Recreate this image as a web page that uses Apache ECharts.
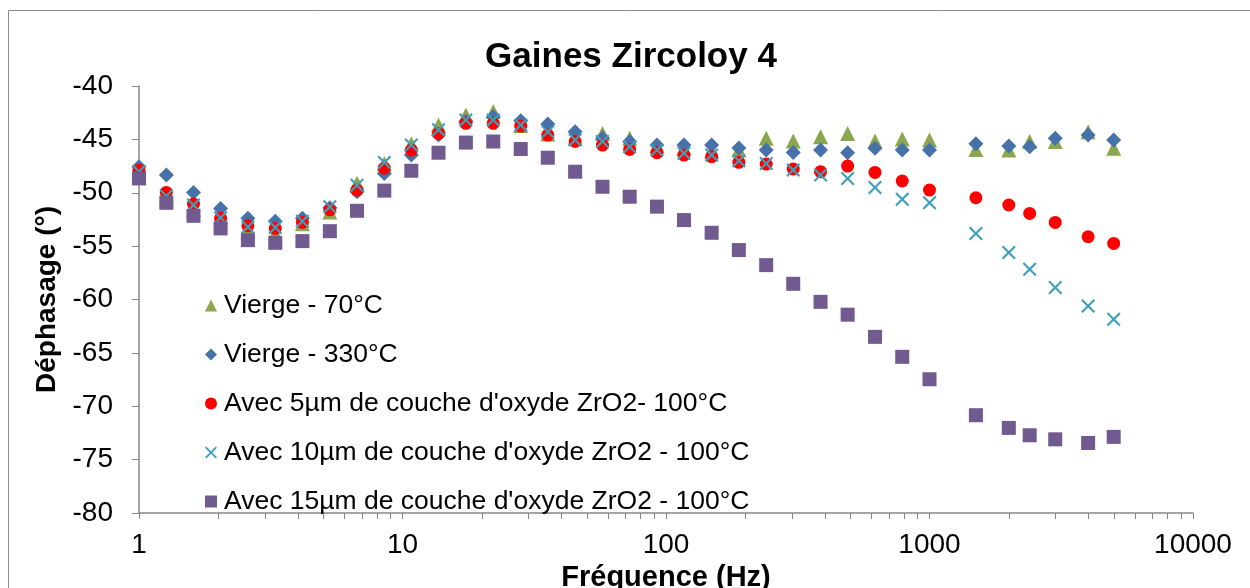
<!DOCTYPE html>
<html>
<head>
<meta charset="utf-8">
<script src="https://cdn.jsdelivr.net/npm/echarts@6/dist/echarts.min.js"></script>
<style>
html,body{margin:0;padding:0;background:#fff;}
#chart{width:1250px;height:588px;}
</style>
</head>
<body>
<div id="chart"></div>
<script>
// ---- data ----
const title = 'Gaines Zircoloy 4';
const xName = 'Fréquence (Hz)';
const yName = 'Déphasage (°)';
const freq = [1, 1.27, 1.61, 2.04, 2.59, 3.29, 4.17, 5.30, 6.72, 8.53, 10.8, 13.7, 17.4, 22.1, 28.1, 35.6, 45.2, 57.4, 72.8, 92.4, 117, 149, 189, 240, 304, 386, 489, 621, 788, 1000, 1500, 2000, 2400, 3000, 4000, 5000];
const vierge70 = [-48.5, -50.6, -51.6, -52.8, -53.6, -53.8, -52.9, -51.8, -49.1, -47.25, -45.4, -43.66, -42.72, -42.4, -43.7, -44.5, -44.9, -44.44, -44.9, -45.6, -45.8, -46.1, -46.0, -44.9, -45.16, -44.75, -44.44, -45.16, -44.97, -45.06, -45.94, -46.0, -45.2, -45.2, -44.28, -45.84];
const vierge330 = [-47.56, -48.34, -49.97, -51.47, -52.4, -52.66, -52.4, -51.4, -49.9, -48.19, -46.47, -44.6, -43.3, -42.87, -43.25, -43.56, -44.28, -44.9, -45.2, -45.53, -45.53, -45.53, -45.8, -46.0, -46.22, -46.0, -46.25, -45.84, -46.0, -46.0, -45.4, -45.63, -45.69, -44.9, -44.6, -45.06];
const oxyde5 = [-47.9, -49.97, -51.06, -52.4, -53.1, -53.34, -52.78, -51.6, -49.75, -47.7, -46.0, -44.44, -43.5, -43.5, -43.75, -44.6, -45.2, -45.53, -45.94, -46.25, -46.47, -46.62, -47.15, -47.31, -47.78, -48.03, -47.5, -48.1, -48.9, -49.75, -50.47, -51.15, -51.94, -52.78, -54.12, -54.75];
const oxyde10 = [-48.0, -50.3, -51.15, -52.34, -53.2, -53.25, -52.66, -51.3, -49.3, -47.16, -45.53, -44.1, -43.19, -43.19, -43.66, -44.28, -45.06, -45.2, -45.7, -46.0, -46.31, -46.47, -47.0, -47.25, -47.88, -48.34, -48.66, -49.5, -50.62, -50.94, -53.81, -55.59, -57.16, -58.87, -60.6, -61.84];
const oxyde15 = [-48.66, -50.94, -52.16, -53.34, -54.44, -54.69, -54.53, -53.6, -51.69, -49.8, -47.94, -46.25, -45.3, -45.2, -45.9, -46.72, -48.03, -49.44, -50.37, -51.3, -52.56, -53.75, -55.37, -56.78, -58.53, -60.22, -61.42, -63.5, -65.37, -67.47, -70.84, -72.03, -72.72, -73.1, -73.44, -72.87];
const seriesNames = ['Vierge - 70°C', 'Vierge - 330°C', 'Avec 5µm de couche d\'oxyde ZrO2- 100°C', 'Avec 10µm de couche d\'oxyde ZrO2 - 100°C', 'Avec 15µm de couche d\'oxyde ZrO2 - 100°C'];
const minorTickValues = [2,3,4,5,6,7,8,9,20,30,40,50,60,70,80,90,200,300,400,500,600,700,800,900,2000,3000,4000,5000,6000,7000,8000,9000];
const yMin = -80, yMax = -40, yStep = 5;
const xMin = 1, xMax = 10000;

// ---- build ----
const FONT = '"Liberation Sans", Arial, sans-serif';
const crossPath = 'path://M0,1.5L1.5,0L7,5.5L12.5,0L14,1.5L8.5,7L14,12.5L12.5,14L7,8.5L1.5,14L0,12.5L5.5,7Z';
const pairs = arr => freq.map((f, i) => [f, arr[i]]);
const styles = [
  {symbol: 'triangle', size: 15, color: '#8AA64E'},
  {symbol: 'diamond', size: 15, color: '#4671A9'},
  {symbol: 'circle', size: 13, color: '#FF0000'},
  {symbol: crossPath, size: 14, color: '#3E9FBA'},
  {symbol: 'rect', size: 14, color: '#715A8F'}
];
const dataSets = [vierge70, vierge330, oxyde5, oxyde10, oxyde15];

const chart = echarts.init(document.getElementById('chart'), null, {renderer: 'canvas'});
const series = dataSets.map((d, i) => ({
  name: seriesNames[i],
  type: 'scatter',
  data: pairs(d),
  symbol: styles[i].symbol,
  symbolSize: styles[i].size,
  itemStyle: {color: styles[i].color, opacity: 1},
  clip: false,
  z: 3 + i
}));
series.push({
  name: 'minorTicks',
  type: 'custom',
  silent: true,
  clip: false,
  z: 1,
  data: minorTickValues.map(v => [v, yMin]),
  renderItem: function (params, api) {
    const p = api.coord([api.value(0), api.value(1)]);
    const x = Math.round(p[0]) + 0.5;
    return {
      type: 'line',
      shape: {x1: x, y1: p[1], x2: x, y2: p[1] + 6},
      style: {stroke: '#868686', lineWidth: 1}
    };
  }
});

chart.setOption({
  animation: false,
  backgroundColor: '#fff',
  graphic: [{
    type: 'rect', shape: {x: 8.5, y: 10.5, width: 1260, height: 600},
    style: {fill: 'none', stroke: '#8c8c8c', lineWidth: 1}, z: -1
  }],
  title: {
    text: title, left: 626, top: 35, textAlign: 'center',
    textStyle: {fontFamily: FONT, fontSize: 35, fontWeight: 'bold', color: '#000'}
  },
  legend: {
    data: seriesNames,
    orient: 'vertical', left: 200, top: 287,
    itemWidth: 12, itemHeight: 12, itemGap: 22,
    textStyle: {fontFamily: FONT, fontSize: 26.5, color: '#000', lineHeight: 26, padding: [0, 0, 0, 2]},
    selectedMode: false
  },
  grid: {left: 139, right: 57, top: 86, bottom: 75, containLabel: false, outerBoundsMode: 'none'},
  xAxis: {
    type: 'log', logBase: 10, min: xMin, max: xMax,
    name: xName, nameLocation: 'middle', nameGap: 41,
    nameTextStyle: {fontFamily: FONT, fontSize: 29, fontWeight: 'bold', color: '#000'},
    axisLine: {lineStyle: {color: '#868686', width: 1.5}},
    axisTick: {show: true, length: 6, lineStyle: {color: '#868686'}},
    axisLabel: {fontFamily: FONT, fontSize: 28, color: '#000', margin: 18, formatter: v => String(v)},
    splitLine: {show: false}
  },
  yAxis: {
    type: 'value', min: yMin, max: yMax, interval: yStep,
    name: yName, nameLocation: 'middle', nameGap: 75, nameRotate: 90,
    nameTextStyle: {fontFamily: FONT, fontSize: 28, fontWeight: 'bold', color: '#000'},
    axisLine: {show: true, lineStyle: {color: '#868686', width: 1.5}},
    axisTick: {show: true, length: 7, lineStyle: {color: '#868686'}},
    axisLabel: {fontFamily: FONT, fontSize: 28, color: '#000', margin: 26},
    splitLine: {show: false}
  },
  series: series
});
</script>
</body>
</html>
